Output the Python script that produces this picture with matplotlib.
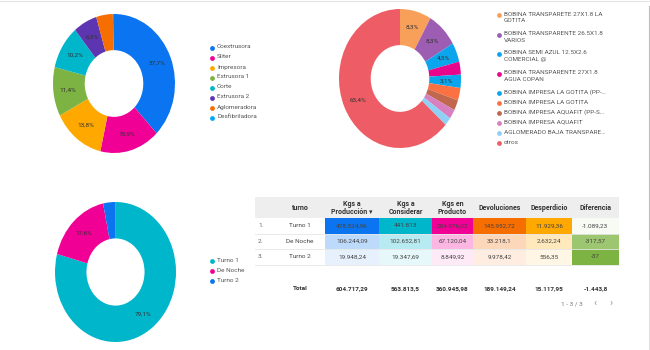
import matplotlib
matplotlib.use('Agg')
import matplotlib.pyplot as plt
import matplotlib.colors as mcolors
from matplotlib.patches import Rectangle
import numpy as np

plt.rcParams['font.family'] = ['Roboto', 'DejaVu Sans']

# donut 1: share per machine
maquinas = ['Coextrusora', 'Sliter', 'Impresora', 'Extrusora 1', 'Corte',
            'Extrusora 2', 'Aglomeradora', 'Desfibriladora']
maquinas_pct = [37.7, 15.9, 13.8, 11.4, 10.2, 6.3, 4.4, 0.3]
maquinas_colors = ['#0b74f0', '#f10096', '#ffa800', '#7cb342', '#00b6cb',
                   '#5e35b1', '#f66d00', '#03a9f4']

# donut 2: share per product
productos = ['BOBINA TRANSPARETE 27X1.8 LA\nGOTITA',
             'BOBINA TRANSPARENTE 26.5X1.8\nVARIOS',
             'BOBINA SEMI AZUL 12.5X2.6\nCOMERCIAL @',
             'BOBINA TRANSPARENTE 27X1.8\nAGUA COPAN',
             'BOBINA IMPRESA LA GOTITA (PP-…',
             'BOBINA IMPRESA LA GOTITA',
             'BOBINA IMPRESA AQUAFIT (PP-S…',
             'BOBINA IMPRESA AQUAFIT',
             'AGLOMERADO BAJA TRANSPARE…',
             'otros']
productos_pct = [8.3, 8.3, 4.5, 3.0, 3.1, 2.9, 2.4, 2.2, 1.9, 63.4]
productos_colors = ['#f8a05a', '#9c5db3', '#0aa5ec', '#e8058c', '#0aa5ec',
                    '#fb7142', '#c0674e', '#d77fbf', '#8fd0f6', '#ee5d66']

# table / donut 3: per shift
turnos = ['Turno 1', 'De Noche', 'Turno 2']
turnos_colors = ['#00b6cb', '#f10096', '#0b74f0']
col_headers = ['turno', 'Kgs a\nProducción ▾', 'Kgs a\nConsiderar',
               'Kgs en\nProducto', 'Devoluciones', 'Desperdicio', 'Diferencia']
kgs_produccion = [478524.96, 106244.09, 19948.24]
kgs_considerar = [441813, 102652.81, 19347.69]
kgs_producto = [284976.02, 67120.04, 8849.92]
devoluciones = [145952.72, 33218.1, 9978.42]
desperdicio = [11929.36, 2632.24, 556.35]
diferencia = [-1089.23, -317.57, -37]
heat_colors = ['#0b74f0', '#00b6cb', '#f10096', '#f66d00', '#ffa800', '#7cb342']

TXT = '#444444'
FS = 4.6
W, H = 650, 350


def fmt(v):
    s = f'{v:,.2f}'
    if '.' in s:
        s = s.rstrip('0').rstrip('.')
    return s.replace(',', '#').replace('.', ',').replace('#', '.')


def pct_fmt(p):
    return f'{p:.1f}%'.replace('.', ',')


def px_axes(fig, x0, y0, x1, y1):
    return fig.add_axes([x0 / W, 1 - y1 / H, (x1 - x0) / W, (y1 - y0) / H])


def donut(ax, values, colors, min_pct):
    wedges, _ = ax.pie(values, colors=colors, startangle=90, counterclock=False,
                       wedgeprops=dict(width=0.52, edgecolor='none'))
    ax.set_aspect('auto')
    ax.set_xlim(-1, 1)
    ax.set_ylim(-1, 1)
    total = float(np.sum(values))
    for w, v in zip(wedges, values):
        p = 100 * v / total
        if p < min_pct:
            continue
        ang = np.deg2rad((w.theta1 + w.theta2) / 2)
        ax.text(0.76 * np.cos(ang), 0.76 * np.sin(ang), pct_fmt(p),
                ha='center', va='center', fontsize=FS, color='#333333')


def legend(ov, x, y, labels, colors):
    for lab, c in zip(labels, colors):
        n = lab.count('\n') + 1
        ov.scatter([x], [y], s=12, color=c, linewidths=0, zorder=3)
        ov.text(x + 5, y - 3.5, lab, ha='left', va='top', fontsize=FS,
                color='#555555', linespacing=1.45)
        y += 9.5 * n + 0.5


fig = plt.figure(figsize=(6.5, 3.5), dpi=100)
ov = fig.add_axes([0, 0, 1, 1])
ov.set_xlim(0, W)
ov.set_ylim(H, 0)
ov.axis('off')

# frame lines of the screenshot
ov.plot([0, W], [0.5, 0.5], color='#e4e4e4', lw=0.8)
ov.plot([648.5, 648.5], [6, 240], color='#bdbdbd', lw=0.8)
ov.plot([648.5, 648.5], [240, 350], color='#e0e0e0', lw=0.8)

ax1 = px_axes(fig, 53, 14, 175, 153)
donut(ax1, maquinas_pct, maquinas_colors, 5)
legend(ov, 212, 48, maquinas, maquinas_colors)

ax2 = px_axes(fig, 339, 9, 461, 148)
donut(ax2, productos_pct, productos_colors, 3.05)
legend(ov, 499, 15, productos, productos_colors)

ax3 = px_axes(fig, 55, 202, 176, 342)
donut(ax3, kgs_produccion, turnos_colors, 5)
legend(ov, 212, 261, turnos, turnos_colors)

# table
cols = [kgs_produccion, kgs_considerar, kgs_producto, devoluciones,
        desperdicio, diferencia]
edges = [325, 379, 432, 473, 526, 572, 619]
centers = [300] + [(a + b) / 2 for a, b in zip(edges[:-1], edges[1:])]
tx0, tx1 = 255, 619
hy0, hy1 = 197, 218
row_h = 15.5

ov.add_patch(Rectangle((tx0, hy0), tx1 - tx0, hy1 - hy0, color='#eeeeee', lw=0))
for cx, h in zip(centers, col_headers):
    ov.text(cx, (hy0 + hy1) / 2 + 0.5, h, ha='center', va='center', fontsize=FS + 0.4,
            fontweight='bold', color='#333333', linespacing=1.05)

for j, (vals, c) in enumerate(zip(cols, heat_colors)):
    vals = np.asarray(vals, dtype=float)
    lo = vals.min() if vals.min() < 0 else 0.0
    norm = mcolors.Normalize(vmin=lo, vmax=vals.max())
    cmap = mcolors.LinearSegmentedColormap.from_list('h', ['#ffffff', c])
    for i, v in enumerate(vals):
        y0 = hy1 + i * row_h
        t = 0.06 + 0.94 * norm(v)
        ov.add_patch(Rectangle((edges[j], y0), edges[j + 1] - edges[j], row_h,
                               color=cmap(t), lw=0))
        ov.text(centers[j + 1], y0 + row_h / 2, fmt(v), ha='center', va='center',
                fontsize=FS, color=TXT)

for i, t in enumerate(turnos):
    y0 = hy1 + i * row_h
    ov.text(258, y0 + row_h / 2, f'{i + 1}.', ha='left', va='center',
            fontsize=FS, color='#666666')
    ov.text(centers[0], y0 + row_h / 2, t, ha='center', va='center',
            fontsize=FS, color=TXT)
    ov.plot([tx0, tx1], [y0 + row_h, y0 + row_h], color='#e6e6e6', lw=0.6)

ov.text(centers[0], 289, 'Total', ha='center', va='center', fontsize=FS,
        fontweight='bold', color='#333333')
for j, vals in enumerate(cols):
    ov.text(centers[j + 1], 289, fmt(round(sum(vals), 2)), ha='center', va='center',
            fontsize=FS, fontweight='bold', color='#333333')

ov.text(572, 304, '1 - 3 / 3', ha='center', va='center', fontsize=FS, color='#777777')
ov.text(595, 303, '‹', ha='center', va='center', fontsize=FS + 3, color='#999999')
ov.text(611, 303, '›', ha='center', va='center', fontsize=FS + 3, color='#999999')

fig.savefig('out.png', dpi=100)
